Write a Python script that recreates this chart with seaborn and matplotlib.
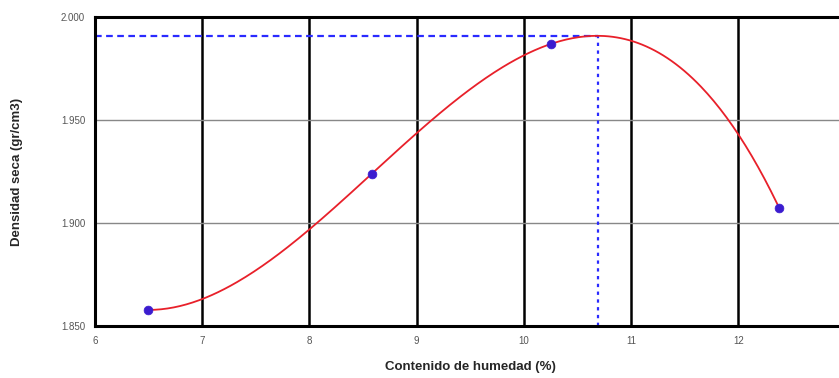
import numpy as np
import pandas as pd
import matplotlib
matplotlib.use('Agg')
import matplotlib.pyplot as plt
import seaborn as sns

# ensayo proctor - puntos medidos
humedad = [6.5, 8.58, 10.25, 12.38]
densidad = [1.8578, 1.9238, 1.9869, 1.9073]
x_ticks = [6, 7, 8, 9, 10, 11, 12]
y_ticks = [1.850, 1.900, 1.950, 2.000]
y_labels = ['1.850', '1.900', '1.950', '2.000']

sns.set_style('white')
plt.rcParams['font.family'] = ['Liberation Sans', 'DejaVu Sans']

# curva ajustada (polinomio de 3er grado)
coef = np.polyfit(humedad, densidad, 3)
xs = np.linspace(min(humedad), max(humedad), 300)
curva = pd.DataFrame({'w': xs, 'd': np.polyval(coef, xs)})
puntos = pd.DataFrame({'w': humedad, 'd': densidad})

i_max = curva['d'].idxmax()
w_opt = curva.loc[i_max, 'w']
d_max = curva.loc[i_max, 'd']

fig = plt.figure(figsize=(8.39, 3.78), dpi=100)
ax = fig.add_axes([0.113, 0.1376, 0.895, 0.8174])

for xv in x_ticks:
    ax.axvline(xv, color='black', lw=1.8, zorder=1)
for yv in y_ticks[1:-1]:
    ax.axhline(yv, color='#888888', lw=1.0, zorder=1)

sns.lineplot(data=curva, x='w', y='d', color='#e8202a', lw=1.3, ax=ax, zorder=3)
sns.scatterplot(data=puntos, x='w', y='d', color='#3b1ccf', s=40, edgecolor='#3b1ccf', ax=ax, zorder=4)

ax.plot([6, w_opt], [d_max, d_max], color='#2a2aff', lw=1.6, ls=(0, (3, 2)), zorder=2)
ax.plot([w_opt, w_opt], [y_ticks[0], d_max], color='#2a2aff', lw=1.6, ls=(0, (1.5, 2)), zorder=2)

ax.set_xlim(6, 13)
ax.set_ylim(y_ticks[0], y_ticks[-1])
ax.set_xticks(x_ticks)
ax.set_xticks(np.arange(6, 13.01, 0.2), minor=True)
ax.set_yticks(y_ticks)
ax.set_yticklabels(y_labels)
ax.tick_params(axis='both', labelsize=7, colors='#555555', length=0, pad=7)
ax.tick_params(axis='x', which='major', direction='in', length=5, color='black', pad=7)
ax.tick_params(axis='x', which='minor', direction='in', length=2, color='black')

for s in ax.spines.values():
    s.set_color('black')
    s.set_linewidth(2.2)

ax.set_xlabel('Contenido de humedad (%)', fontsize=9.5, fontweight='bold', labelpad=11)
ax.set_ylabel('Densidad seca (gr/cm3)', fontsize=9.5, fontweight='bold', labelpad=27)

fig.savefig('out.png', dpi=100)
